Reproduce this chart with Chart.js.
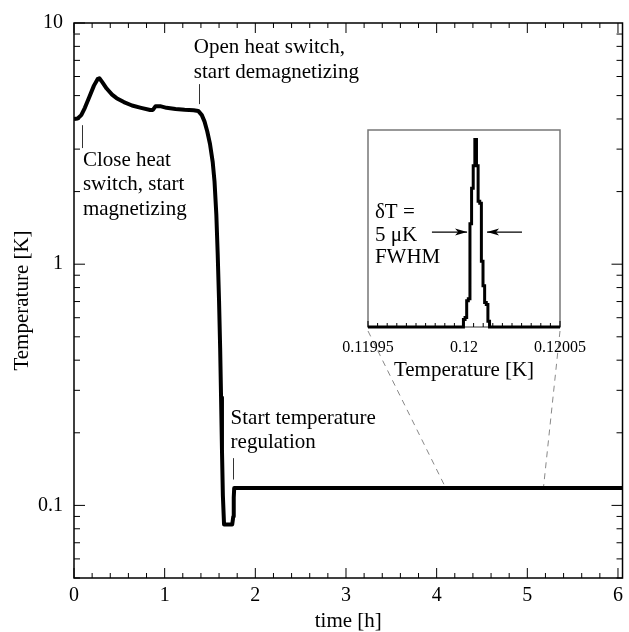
<!DOCTYPE html>
<html>
<head>
<meta charset="utf-8">
<script src="https://cdn.jsdelivr.net/npm/chart.js@4.4.1/dist/chart.umd.min.js"></script>
<style>
  html, body { margin: 0; padding: 0; background: #fff; }
  #wrap { position: relative; width: 629px; height: 632px; }
  #main { position: absolute; left: 0; top: 0; }
  #inset { position: absolute; left: 330px; top: 115px; }
</style>
</head>
<body>
<div id="wrap">
  <canvas id="main" width="629" height="632"></canvas>
  <canvas id="inset" width="270" height="270"></canvas>
</div>
<script>
// cooldown curve: time [h] / temperature [K]
const timeH = [0, 0.04, 0.08, 0.12, 0.17, 0.22, 0.26, 0.28, 0.31, 0.36,
               0.42, 0.47, 0.55, 0.64, 0.74, 0.84, 0.87, 0.9, 0.95, 1.02,
               1.12, 1.22, 1.32, 1.37, 1.41, 1.44, 1.47, 1.5, 1.53, 1.55,
               1.57, 1.585, 1.6, 1.612, 1.622, 1.632, 1.642, 1.655, 1.745, 1.757,
               1.762, 1.767, 6.05];
const tempK = [4.0, 4.02, 4.15, 4.45, 4.95, 5.5, 5.85, 5.9, 5.7, 5.35,
               5.05, 4.88, 4.7, 4.55, 4.45, 4.36, 4.36, 4.52, 4.52, 4.45,
               4.4, 4.37, 4.35, 4.32, 4.15, 3.9, 3.55, 3.15, 2.65, 2.2,
               1.6, 1.1, 0.7, 0.45, 0.28, 0.17, 0.11, 0.0834, 0.0834, 0.09,
               0.108, 0.118, 0.118];
const xTickVals = [0, 1, 2, 3, 4, 5, 6];
const yTickVals = [0.1, 1, 10];

// inset histogram: bin edges in µK above 0.12 K, counts normalised to the peak
const histEdgesUK = [-0.3, 0.55, 1.4, 2.25, 3.1, 3.95, 4.8, 5.65, 6.5,
                     7.35, 8.2, 9.05, 9.9, 10.75, 11.6, 12.45, 13.3];
const histCounts = [0.04, 0.05, 0.14, 0.15, 0.55, 0.74, 0.86, 1.0,
                    0.86, 0.67, 0.66, 0.35, 0.22, 0.13, 0.12, 0.03];
const insetTickVals = [0.11995, 0.12, 0.12005];
const insetTickLabels = ['0.11995', '0.12', '0.12005'];

// where the inset window lands on the regulated line
const zoomTimes = [4.09, 5.18];
const zoomLevel = 0.118;

const FONT = 'Liberation Serif';
const INSET_X = 330, INSET_Y = 115;

const notes = [
  { lines: ['Close heat', 'switch, start', 'magnetizing'], t: 0.098, v: 2.70, lead: [0.087, 3.77, 3.03] },
  { lines: ['Open heat switch,', 'start demagnetizing'], t: 1.322, v: 7.88, lead: [1.377, 5.58, 4.61] },
  { lines: ['Start temperature', 'regulation'], t: 1.727, v: 0.23, lead: [1.749, 0.157, 0.128] }
];

// histogram -> step line points
let histPts = [{ x: 0.11995, y: 0 }];
for (let i = 0; i < histCounts.length; i++) {
  histPts.push({ x: 0.12 + histEdgesUK[i] * 1e-6, y: histCounts[i] });
}
histPts.push({ x: 0.12 + histEdgesUK[histEdgesUK.length - 1] * 1e-6, y: 0 });
histPts.push({ x: 0.12005, y: 0 });

function arrow(ctx, x1, y1, x2, y2) {
  ctx.beginPath();
  ctx.moveTo(x1, y1);
  ctx.lineTo(x2, y2);
  ctx.stroke();
  const dir = Math.sign(x2 - x1);
  ctx.beginPath();
  ctx.moveTo(x2, y2);
  ctx.lineTo(x2 - dir * 12, y2 - 3.5);
  ctx.lineTo(x2 - dir * 9, y2);
  ctx.lineTo(x2 - dir * 12, y2 + 3.5);
  ctx.closePath();
  ctx.fill();
}

const insetFrame = {
  id: 'insetFrame',
  beforeDatasetsDraw(chart) {
    const ctx = chart.ctx, a = chart.chartArea;
    ctx.save();
    ctx.strokeStyle = '#777';
    ctx.lineWidth = 1.5;
    ctx.strokeRect(a.left, a.top, a.right - a.left, a.bottom - a.top);
    ctx.restore();
  },
  afterDraw(chart) {
    const ctx = chart.ctx, a = chart.chartArea;
    const xs = chart.scales.x, ys = chart.scales.y;
    ctx.save();
    ctx.strokeStyle = '#000';
    ctx.lineWidth = 1;
    for (let i = 0; i <= 20; i++) {
      const px = xs.getPixelForValue(0.11995 + i * 0.000005);
      ctx.beginPath();
      ctx.moveTo(px, a.bottom);
      ctx.lineTo(px, a.bottom - (i % 10 === 0 ? 6 : 4));
      ctx.stroke();
    }
    ctx.fillStyle = '#000';
    ctx.font = '21px ' + FONT;
    ctx.textBaseline = 'middle';
    const tx = xs.getPixelForValue(0.1199536);
    ctx.fillText('\u03b4T =', tx, ys.getPixelForValue(0.608));
    ctx.fillText('5 \u03bcK', tx, ys.getPixelForValue(0.490));
    ctx.fillText('FWHM', tx, ys.getPixelForValue(0.373));
    const ay = ys.getPixelForValue(0.506);
    ctx.lineWidth = 1.2;
    arrow(ctx, xs.getPixelForValue(0.1199833), ay, xs.getPixelForValue(0.1200016), ay);
    arrow(ctx, xs.getPixelForValue(0.1200302), ay, xs.getPixelForValue(0.120012), ay);
    ctx.restore();
  }
};

const insetChart = new Chart(document.getElementById('inset'), {
  type: 'line',
  data: {
    datasets: [{
      data: histPts,
      borderColor: '#000',
      borderWidth: 3,
      pointRadius: 0,
      stepped: true,
      fill: false,
      clip: 6
    }]
  },
  options: {
    responsive: false,
    animation: false,
    devicePixelRatio: 1,
    layout: { padding: { left: 38, right: 40, top: 15, bottom: 0 } },
    plugins: { legend: { display: false }, tooltip: { enabled: false } },
    scales: {
      x: {
        type: 'linear',
        min: 0.11995,
        max: 0.12005,
        grid: { display: false, drawTicks: false },
        border: { display: false },
        afterBuildTicks: s => { s.ticks = insetTickVals.map(v => ({ value: v })); },
        afterFit: s => { s.height = 58; },
        ticks: {
          padding: 11,
          maxRotation: 0,
          color: '#000',
          font: { family: FONT, size: 16 },
          callback: (v, i) => insetTickLabels[i]
        },
        title: {
          display: true,
          text: 'Temperature [K]',
          color: '#000',
          font: { family: FONT, size: 21 },
          padding: { top: 0, bottom: 2 }
        }
      },
      y: { display: false, min: 0, max: 1.05 }
    }
  },
  plugins: [insetFrame]
});

const frame = {
  id: 'frame',
  afterDraw(chart) {
    const ctx = chart.ctx, a = chart.chartArea;
    const xs = chart.scales.x, ys = chart.scales.y;
    ctx.save();
    // dashed connectors from the inset corners down to the regulated line
    const ia = insetChart.chartArea;
    const corners = [[INSET_X + ia.left, INSET_Y + ia.bottom + 4], [INSET_X + ia.right, INSET_Y + ia.bottom + 4]];
    ctx.strokeStyle = '#888';
    ctx.lineWidth = 1;
    ctx.setLineDash([6, 5]);
    zoomTimes.forEach((t, i) => {
      ctx.beginPath();
      ctx.moveTo(corners[i][0], corners[i][1]);
      ctx.lineTo(xs.getPixelForValue(t), ys.getPixelForValue(zoomLevel) - 2);
      ctx.stroke();
    });
    ctx.setLineDash([]);

    // box
    ctx.strokeStyle = '#000';
    ctx.lineWidth = 1.5;
    ctx.strokeRect(a.left, a.top, a.right - a.left, a.bottom - a.top);

    // inward ticks
    ctx.lineWidth = 1;
    for (let i = 0; i <= 30; i++) {
      const px = xs.getPixelForValue(i / 5);
      if (px > a.right + 0.5) break;
      const len = i % 5 === 0 ? 10 : 5;
      ctx.beginPath();
      ctx.moveTo(px, a.bottom); ctx.lineTo(px, a.bottom - len);
      ctx.moveTo(px, a.top); ctx.lineTo(px, a.top + len);
      ctx.stroke();
    }
    [0.01, 0.1, 1].forEach(d => {
      for (let m = 1; m <= 9; m++) {
        const v = m * d;
        if (v < ys.min || v > ys.max) continue;
        const py = ys.getPixelForValue(v);
        const len = m === 1 ? 11 : 6;
        ctx.beginPath();
        ctx.moveTo(a.left, py); ctx.lineTo(a.left + len, py);
        ctx.moveTo(a.right, py); ctx.lineTo(a.right - len, py);
        ctx.stroke();
      }
    });
    const py10 = ys.getPixelForValue(10);
    ctx.beginPath();
    ctx.moveTo(a.left, py10); ctx.lineTo(a.left + 11, py10);
    ctx.stroke();

    // annotations
    ctx.fillStyle = '#000';
    ctx.font = '21px ' + FONT;
    ctx.textBaseline = 'middle';
    ctx.strokeStyle = '#333';
    notes.forEach(n => {
      const x0 = xs.getPixelForValue(n.t);
      const y0 = ys.getPixelForValue(n.v);
      n.lines.forEach((s, k) => ctx.fillText(s, x0, y0 + k * 24.5));
      const lx = Math.round(xs.getPixelForValue(n.lead[0])) + 0.5;
      ctx.beginPath();
      ctx.moveTo(lx, ys.getPixelForValue(n.lead[1]));
      ctx.lineTo(lx, ys.getPixelForValue(n.lead[2]));
      ctx.stroke();
    });
    ctx.restore();
  }
};

new Chart(document.getElementById('main'), {
  type: 'line',
  data: {
    datasets: [{
      data: timeH.map((t, i) => ({ x: t, y: tempK[i] })),
      borderColor: '#000',
      borderWidth: 4,
      pointRadius: 0,
      tension: 0,
      fill: false,
      borderJoinStyle: 'round'
    }]
  },
  options: {
    responsive: false,
    animation: false,
    devicePixelRatio: 1,
    layout: { padding: { left: 0, right: 2, top: 22, bottom: 0 } },
    plugins: { legend: { display: false }, tooltip: { enabled: false } },
    scales: {
      x: {
        type: 'linear',
        min: 0,
        max: 6.05,
        grid: { display: false, drawTicks: false },
        border: { display: false },
        afterBuildTicks: s => { s.ticks = xTickVals.map(v => ({ value: v })); },
        afterFit: s => { s.height = 54; },
        ticks: {
          padding: 6,
          maxRotation: 0,
          color: '#000',
          font: { family: FONT, size: 20 },
          callback: v => String(v)
        },
        title: {
          display: true,
          text: 'time [h]',
          color: '#000',
          font: { family: FONT, size: 21, lineHeight: 1 },
          padding: { top: 0, bottom: 0 }
        }
      },
      y: {
        type: 'logarithmic',
        min: 0.05,
        max: 10,
        grid: { display: false, drawTicks: false },
        border: { display: false },
        afterBuildTicks: s => { s.ticks = yTickVals.map(v => ({ value: v })); },
        afterFit: s => { s.width = 74; },
        ticks: {
          padding: 11,
          color: '#000',
          font: { family: FONT, size: 20 },
          callback: v => String(v)
        },
        title: {
          display: true,
          text: 'Temperature [K]',
          color: '#000',
          font: { family: FONT, size: 21 },
          padding: { top: 10, bottom: 0 }
        }
      }
    }
  },
  plugins: [frame]
});
</script>
</body>
</html>
